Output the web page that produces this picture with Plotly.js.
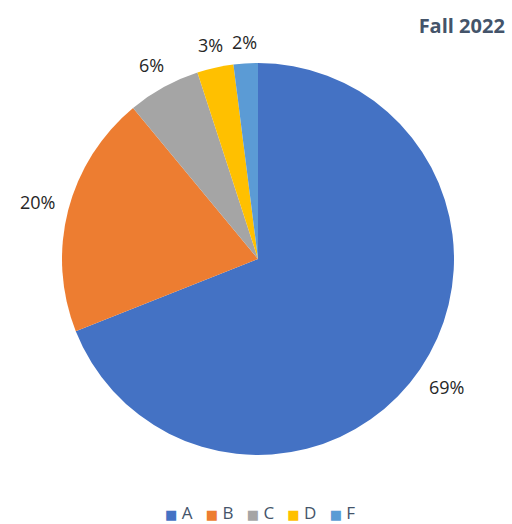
<!DOCTYPE html>
<html>
<head>
<meta charset="utf-8">
<script src="https://cdn.plot.ly/plotly-3.0.1.min.js"></script>
<style>html,body{margin:0;padding:0;background:#fff;}#chart{width:512px;height:524px;}</style>
</head>
<body>
<div id="chart"></div>
<script>
const grades = ["A", "B", "C", "D", "F"];
const shares = [69, 20, 6, 3, 2];
const sliceColors = ["#4472C4", "#ED7D31", "#A5A5A5", "#FFC000", "#5B9BD5"];
const chartTitle = "Fall 2022";

// plot area geometry (square plot area so the pie fills the domain)
const W = 512, H = 524;
const M = {l: 62, r: 58, t: 63, b: 69};
const plotW = W - M.l - M.r, plotH = H - M.t - M.b;
const radius = Math.min(plotW, plotH) / 2;

// Outside-end percentage labels, positioned from the data (slice mid-angles)
const total = shares.reduce((a, b) => a + b, 0);
const annotations = [];
let cum = 0;
shares.forEach((v, i) => {
  const frac = v / total;
  const mid = (cum + frac / 2) * 2 * Math.PI; // clockwise from 12 o'clock
  cum += frac;
  const s = Math.sin(mid), c = Math.cos(mid);
  const txt = Math.round(frac * 100) + "%";
  const halfW = txt.length * 6, halfH = 9;
  const R = radius + 12 + Math.abs(s) * halfW + Math.abs(c) * halfH;
  annotations.push({
    text: txt,
    xref: "paper", yref: "paper",
    x: 0.5 + (R * s) / plotW,
    y: 0.5 + (R * c) / plotH,
    xanchor: "center", yanchor: "middle",
    showarrow: false,
    font: {family: "Open Sans, sans-serif", size: 18, color: "#262626"}
  });
});

// Legend row (colour square + grade), built from the category arrays
const legendText = grades.map((g, i) =>
  '<span style="color:' + sliceColors[i] + ';font-size:13px;font-family:DejaVu Sans">\u25A0</span>\u00A0' + g
).join('\u00A0\u00A0\u00A0');
annotations.push({
  text: legendText,
  xref: "paper", yref: "paper",
  x: (260 - M.l) / plotW, y: -(512 - (H - M.b)) / plotH,
  xanchor: "center", yanchor: "middle",
  showarrow: false,
  font: {family: "Open Sans, sans-serif", size: 17, color: "#44546A"}
});

const data = [{
  type: "pie",
  labels: grades,
  values: shares,
  sort: false,
  direction: "clockwise",
  rotation: 0,
  marker: {colors: sliceColors, line: {color: "#ffffff", width: 0}},
  textinfo: "none",
  automargin: false,
  hoverinfo: "none"
}];

const layout = {
  width: W, height: H,
  margin: {l: M.l, r: M.r, t: M.t, b: M.b, autoexpand: false},
  paper_bgcolor: "#ffffff",
  font: {family: "Open Sans, sans-serif"},
  title: {
    text: "<b>" + chartTitle + "</b>",
    xref: "container", yref: "container",
    x: 0.986, xanchor: "right", y: 1 - 26 / H, yanchor: "middle",
    font: {family: "Open Sans, sans-serif", size: 20, color: "#44546A"}
  },
  showlegend: false,
  annotations: annotations
};

Plotly.newPlot("chart", data, layout, {staticPlot: true});
</script>
</body>
</html>
